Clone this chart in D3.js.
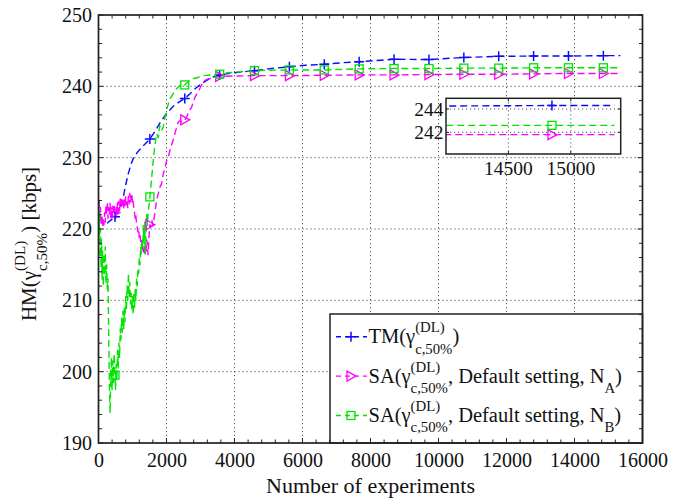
<!DOCTYPE html>
<html>
<head>
<meta charset="utf-8">
<script src="https://cdn.jsdelivr.net/npm/d3@7"></script>
<style>
  html, body { margin: 0; padding: 0; background: #fff; }
  svg { display: block; }
  text { font-family: "Liberation Serif", "Times New Roman", serif; fill: #111; white-space: pre; }
</style>
</head>
<body>
<svg id="chart" width="685" height="498"></svg>
<script>
// ---- data ----
const xTicks = [0, 2000, 4000, 6000, 8000, 10000, 12000, 14000, 16000];
const yTicks = [190, 200, 210, 220, 230, 240, 250];
const insetXTicks = [14500, 15000];
const insetYTicks = [242, 244];

// experiment counts that carry a marker symbol
const markerX = [485, 1511, 2537, 3563, 4589, 5615, 6641, 7667, 8693, 9719, 10745, 11771, 12797, 13823, 14849];

// TM
const tmX = [250, 485, 600, 730, 800, 878, 950, 1025, 1150, 1300, 1511, 1700, 1850, 2005, 2200, 2400, 2537, 2700, 2850, 3035, 3300, 3563, 4000, 4589, 5100, 5615, 6100, 6641, 7150, 7667, 8693, 9719, 10745, 11771, 12797, 13823, 14849, 15350];
const tmY = [220.8, 221.7, 222.8, 224.5, 226.2, 227.8, 229, 229.9, 230.8, 231.6, 232.6, 234, 235.2, 236.2, 237.2, 237.9, 238.3, 239, 239.7, 240.4, 241.2, 241.6, 241.9, 242.2, 242.5, 242.75, 242.95, 243.1, 243.3, 243.45, 243.8, 243.75, 244.05, 244.2, 244.25, 244.25, 244.3, 244.3];

// SA, default setting, N_A
const saAX = [0, 20, 40, 60, 80, 100, 120, 140, 160, 180, 200, 220, 240, 260, 280, 300, 320, 340, 360, 380, 400, 420, 440, 460, 485, 500, 520, 540, 560, 580, 600, 620, 640, 660, 680, 700, 720, 740, 760, 780, 800, 820, 840, 860, 880, 900, 920, 940, 960, 980, 1000, 1020, 1040, 1060, 1080, 1100, 1120, 1140, 1160, 1180, 1200, 1220, 1240, 1260, 1280, 1300, 1320, 1340, 1360, 1380, 1400, 1420, 1440, 1460, 1480, 1511, 1540, 1570, 1600, 1630, 1660, 1711, 1760, 1800, 1858, 1900, 1950, 2005, 2054, 2100, 2150, 2200, 2250, 2300, 2347, 2400, 2450, 2500, 2537, 2600, 2650, 2700, 2740, 2800, 2850, 2900, 2936, 3000, 3083, 3200, 3350, 3563, 4000, 4589, 5615, 6641, 7667, 8693, 9719, 10745, 11771, 12797, 13823, 14849, 15350];
const saAY = [222.5, 224, 221, 223, 220.5, 222, 220.3, 221.5, 220.6, 222.3, 221, 223.4, 222, 223.8, 221.5, 223, 222, 223.6, 221.8, 222.8, 221.3, 223.2, 222, 223.5, 222.3, 221.5, 223, 222.2, 223.7, 222.5, 223.9, 222.6, 224.2, 223, 224.4, 223.2, 224, 222.8, 224.3, 223.1, 224.5, 223.4, 224.1, 223, 224.6, 223.5, 225, 223.8, 224.4, 225, 223.6, 224, 222.8, 222.3, 221.4, 221.9, 220.6, 220.2, 219.6, 220, 218.8, 219.3, 218.3, 217.6, 218.4, 217.3, 216.8, 217.5, 216.5, 217.8, 216.9, 218.5, 217.4, 216.4, 218.6, 220.6, 220.3, 221.2, 220.5, 221.3, 222.4, 224.1, 225, 225.8, 226.4, 227.6, 228.5, 229.6, 230.1, 231, 231.8, 232.5, 233.4, 234.3, 235, 235.2, 235, 235.3, 235.3, 235.8, 236.3, 236.8, 237.1, 238, 238.6, 239, 239.2, 239.9, 240.7, 241, 241.2, 241.4, 241.45, 241.5, 241.5, 241.55, 241.6, 241.6, 241.65, 241.7, 241.7, 241.75, 241.8, 241.8, 241.8];

// SA, default setting, N_B
const saBX = [0, 15, 30, 45, 60, 75, 90, 105, 120, 140, 160, 180, 200, 220, 240, 260, 280, 300, 320, 340, 360, 380, 400, 420, 440, 460, 485, 500, 520, 540, 560, 580, 600, 620, 640, 660, 680, 700, 720, 740, 760, 780, 800, 820, 840, 860, 880, 900, 920, 940, 960, 980, 1000, 1020, 1040, 1060, 1080, 1100, 1120, 1140, 1160, 1180, 1200, 1220, 1240, 1260, 1280, 1300, 1320, 1340, 1360, 1380, 1400, 1420, 1440, 1460, 1480, 1511, 1560, 1612, 1650, 1711, 1760, 1800, 1850, 1906, 1950, 2005, 2050, 2100, 2150, 2200, 2280, 2350, 2420, 2494, 2537, 2600, 2700, 2800, 2900, 2985, 3100, 3300, 3563, 3800, 4100, 4589, 5000, 5615, 6641, 7667, 8693, 9719, 10745, 11771, 12797, 13823, 14849, 15350];
const saBY = [224, 219, 222.5, 216, 220, 214.5, 218.5, 213, 217, 212, 216.5, 213.5, 217.5, 212.5, 215, 211.5, 213, 205, 198, 194.2, 199.5, 202, 197.5, 201.5, 198.5, 202.5, 199.5, 197.5, 201, 198.8, 203, 200.5, 204, 202, 206, 204.5, 207.5, 205.5, 208.5, 206, 209, 207, 210.5, 208.5, 212, 210, 213.8, 210.5, 212.5, 209.5, 211, 208.5, 210.5, 208, 211, 209, 211.5, 210, 213, 212, 214.5, 213.8, 216, 215, 217.5, 216.5, 218.5, 217.5, 220.5, 218, 221, 216.5, 219.5, 222, 220.5, 222.5, 223, 224.5, 227, 229.7, 231.5, 233.4, 232.8, 234.5, 233.8, 234.3, 235.5, 236.7, 237.5, 238.2, 238.6, 239, 239.6, 239.9, 240.2, 240.4, 240.2, 240.5, 240.9, 241.1, 241.2, 241.4, 241.5, 241.6, 241.7, 241.9, 242, 242.2, 242.25, 242.3, 242.3, 242.45, 242.5, 242.5, 242.55, 242.55, 242.6, 242.6, 242.6, 242.6];

// ---- layout ----
const svg = d3.select("#chart");
const X0 = 98.5, X1 = 642.5, Y0 = 15, Y1 = 443;
const x = d3.scaleLinear().domain([0, 16000]).range([X0, X1]);
const y = d3.scaleLinear().domain([190, 250]).range([Y1, Y0]);

const series = [
  { xs: tmX,  ys: tmY,  color: "#0a0aff", marker: "plus" },
  { xs: saAX, ys: saAY, color: "#ff00ff", marker: "tri" },
  { xs: saBX, ys: saBY, color: "#00e400", marker: "square" }
];
series.forEach(s => { s.pts = d3.zip(s.xs, s.ys); });

const DASH = "7,4";
const LW = 1.4;

function drawMarker(g, kind, cx, cy, color) {
  if (kind === "plus") {
    g.append("path").attr("d", `M${cx - 5},${cy}H${cx + 5}M${cx},${cy - 5}V${cy + 5}`)
      .attr("stroke", color).attr("stroke-width", 1.5).attr("fill", "none");
  } else if (kind === "square") {
    g.append("rect").attr("x", cx - 4).attr("y", cy - 4).attr("width", 8).attr("height", 8)
      .attr("stroke", color).attr("stroke-width", 1.3).attr("fill", "none");
  } else {
    g.append("path").attr("d", `M${cx - 4},${cy - 5}L${cx + 5},${cy}L${cx - 4},${cy + 5}Z`)
      .attr("stroke", color).attr("stroke-width", 1.3).attr("fill", "none");
  }
}

// grid
const grid = svg.append("g").attr("stroke", "#555").attr("stroke-width", 1).attr("stroke-dasharray", "1.2,2.8");
xTicks.slice(1, -1).forEach(v => grid.append("line").attr("x1", x(v)).attr("x2", x(v)).attr("y1", Y0).attr("y2", Y1));
yTicks.slice(1, -1).forEach(v => grid.append("line").attr("x1", X0).attr("x2", X1).attr("y1", y(v)).attr("y2", y(v)));

// clip for plot area
svg.append("clipPath").attr("id", "plotClip").append("rect")
  .attr("x", X0).attr("y", Y0).attr("width", X1 - X0).attr("height", Y1 - Y0);

const line = d3.line().x(d => x(d[0])).y(d => y(d[1]));
const plotG = svg.append("g").attr("clip-path", "url(#plotClip)");
series.forEach(s => {
  plotG.append("path").attr("d", line(s.pts)).attr("fill", "none")
    .attr("stroke", s.color).attr("stroke-width", LW).attr("stroke-dasharray", DASH)
    .attr("stroke-linejoin", "round");
});
series.forEach(s => {
  s.pts.filter(d => markerX.includes(d[0])).forEach(d => drawMarker(plotG, s.marker, x(d[0]), y(d[1]), s.color));
});

// text with TeX-like super/subscripts, laid out left to right
function texText(g, parts, size, x0, yb) {
  let cx = x0;
  const small = size * 0.72;
  parts.forEach(p => {
    if (p.t !== undefined) {
      const el = g.append("text").attr("x", cx).attr("y", yb).style("font-size", size + "px").text(p.t);
      cx += el.node().getComputedTextLength();
    } else {
      let w = 0;
      if (p.sup) {
        const e = g.append("text").attr("x", cx).attr("y", yb - size * 0.53).style("font-size", small + "px").text(p.sup);
        w = Math.max(w, e.node().getComputedTextLength());
      }
      if (p.sub) {
        const e = g.append("text").attr("x", cx).attr("y", yb + size * 0.5).style("font-size", small + "px").text(p.sub);
        w = Math.max(w, e.node().getComputedTextLength());
      }
      cx += w;
    }
  });
  return cx - x0;
}

// legend
const legendLabels = [
  [{ t: "TM(γ" }, { sup: "(DL)", sub: "c,50%" }, { t: ")" }],
  [{ t: "SA(γ" }, { sup: "(DL)", sub: "c,50%" }, { t: ", Default setting, N" }, { sub: "A" }, { t: ")" }],
  [{ t: "SA(γ" }, { sup: "(DL)", sub: "c,50%" }, { t: ", Default setting, N" }, { sub: "B" }, { t: ")" }]
];
const LX0 = 330, LY0 = 314;
const leg = svg.append("g");
leg.append("rect").attr("x", LX0).attr("y", LY0).attr("width", X1 - LX0).attr("height", Y1 - LY0)
  .attr("fill", "#fff").attr("stroke", "#222").attr("stroke-width", 1.5);
series.forEach((s, i) => {
  const base = 343.3 + i * 39.4;
  const ly = base - 6.6;
  leg.append("line").attr("x1", 335).attr("x2", 367).attr("y1", ly).attr("y2", ly)
    .attr("stroke", s.color).attr("stroke-width", LW).attr("stroke-dasharray", "5,4").attr("stroke-dashoffset", -1);
  drawMarker(leg, s.marker, 351, ly, s.color);
  texText(leg, legendLabels[i], 20.5, 368.5, base);
});

// axes frame and ticks (inward, on all four sides)
const ax = svg.append("g").attr("stroke", "#222").attr("stroke-width", 1);
const xMinor = d3.range(0, 16001, 400).filter(v => !xTicks.includes(v));
const yMinor = d3.range(190, 250.01, 2).filter(v => !yTicks.includes(v));
const MJ = 5, MN = 3.5;
xTicks.forEach(v => {
  ax.append("line").attr("x1", x(v)).attr("x2", x(v)).attr("y1", Y1).attr("y2", Y1 - MJ);
  ax.append("line").attr("x1", x(v)).attr("x2", x(v)).attr("y1", Y0).attr("y2", Y0 + MJ);
});
xMinor.forEach(v => {
  ax.append("line").attr("x1", x(v)).attr("x2", x(v)).attr("y1", Y1).attr("y2", Y1 - MN);
  ax.append("line").attr("x1", x(v)).attr("x2", x(v)).attr("y1", Y0).attr("y2", Y0 + MN);
});
yTicks.forEach(v => {
  ax.append("line").attr("x1", X0).attr("x2", X0 + MJ).attr("y1", y(v)).attr("y2", y(v));
  ax.append("line").attr("x1", X1).attr("x2", X1 - MJ).attr("y1", y(v)).attr("y2", y(v));
});
yMinor.forEach(v => {
  ax.append("line").attr("x1", X0).attr("x2", X0 + MN).attr("y1", y(v)).attr("y2", y(v));
  ax.append("line").attr("x1", X1).attr("x2", X1 - MN).attr("y1", y(v)).attr("y2", y(v));
});
svg.append("rect").attr("x", X0).attr("y", Y0).attr("width", X1 - X0).attr("height", Y1 - Y0)
  .attr("fill", "none").attr("stroke", "#222").attr("stroke-width", 1.7);

// tick labels
const xAxis = d3.axisBottom(x).tickValues(xTicks).tickSize(0).tickPadding(0).tickFormat(d3.format("d"));
const xg = svg.append("g").attr("transform", `translate(0,${Y1})`).call(xAxis);
xg.select(".domain").remove();
xg.selectAll("text").attr("y", 24).attr("dy", null).style("font-size", "20px")
  .style("font-family", '"Liberation Serif", serif').attr("fill", "#111");

const yAxis = d3.axisLeft(y).tickValues(yTicks).tickSize(0).tickPadding(0).tickFormat(d3.format("d"));
const yg = svg.append("g").attr("transform", `translate(${X0},0)`).call(yAxis);
yg.select(".domain").remove();
yg.selectAll("text").attr("x", -6.5).attr("dy", "0.33em").style("font-size", "20px")
  .style("font-family", '"Liberation Serif", serif').attr("fill", "#111");

// axis titles
svg.append("text").attr("x", (X0 + X1) / 2).attr("y", 492.5).attr("text-anchor", "middle")
  .style("font-size", "22px").text("Number of experiments");

const ylab = svg.append("g").attr("transform", "translate(36,244) rotate(-90)");
const ylabInner = ylab.append("g");
const yw = texText(ylabInner, [{ t: "HM(γ" }, { sup: "(DL)", sub: "c,50%" }, { t: ") [kbps]" }], 21, 0, 0);
ylabInner.attr("transform", `translate(${-yw / 2},0)`);

// zoomed inset around the final experiments
const IX0 = 446, IX1 = 620.7, IY0 = 98.3, IY1 = 154;
const xi = d3.scaleLinear().domain([14000, 15400]).range([IX0, IX1]);
const yi = d3.scaleLinear().domain([240.14, 244.92]).range([IY1, IY0]);
const ins = svg.append("g");
ins.append("rect").attr("x", IX0).attr("y", IY0).attr("width", IX1 - IX0).attr("height", IY1 - IY0).attr("fill", "#fff");
const igrid = ins.append("g").attr("stroke", "#555").attr("stroke-width", 1).attr("stroke-dasharray", "1.2,2.8");
insetXTicks.forEach(v => igrid.append("line").attr("x1", xi(v)).attr("x2", xi(v)).attr("y1", IY0).attr("y2", IY1));
insetYTicks.forEach(v => igrid.append("line").attr("x1", IX0).attr("x2", IX1).attr("y1", yi(v)).attr("y2", yi(v)));
svg.append("clipPath").attr("id", "insetClip").append("rect")
  .attr("x", IX0).attr("y", IY0).attr("width", IX1 - IX0).attr("height", IY1 - IY0);
const iline = d3.line().x(d => xi(d[0])).y(d => yi(d[1]));
const insG = ins.append("g").attr("clip-path", "url(#insetClip)");
series.forEach(s => {
  insG.append("path").attr("d", iline(s.pts)).attr("fill", "none")
    .attr("stroke", s.color).attr("stroke-width", LW).attr("stroke-dasharray", DASH);
});
series.forEach(s => {
  s.pts.filter(d => markerX.includes(d[0]) && d[0] >= 14000 && d[0] <= 15400)
    .forEach(d => drawMarker(insG, s.marker, xi(d[0]), yi(d[1]), s.color));
});
const iax = ins.append("g").attr("stroke", "#222").attr("stroke-width", 1);
insetXTicks.forEach(v => {
  iax.append("line").attr("x1", xi(v)).attr("x2", xi(v)).attr("y1", IY1).attr("y2", IY1 - 3);
  iax.append("line").attr("x1", xi(v)).attr("x2", xi(v)).attr("y1", IY0).attr("y2", IY0 + 3);
});
insetYTicks.forEach(v => {
  iax.append("line").attr("x1", IX0).attr("x2", IX0 + 3).attr("y1", yi(v)).attr("y2", yi(v));
  iax.append("line").attr("x1", IX1).attr("x2", IX1 - 3).attr("y1", yi(v)).attr("y2", yi(v));
});
ins.append("rect").attr("x", IX0).attr("y", IY0).attr("width", IX1 - IX0).attr("height", IY1 - IY0)
  .attr("fill", "none").attr("stroke", "#222").attr("stroke-width", 1.5);
insetXTicks.forEach(v => ins.append("text").attr("x", xi(v)).attr("y", 175).attr("text-anchor", "middle")
  .style("font-size", "19.5px").text(d3.format("d")(v)));
insetYTicks.forEach(v => ins.append("text").attr("x", IX0 - 2.5).attr("y", yi(v)).attr("dy", "0.35em")
  .attr("text-anchor", "end").style("font-size", "19.5px").text(d3.format("d")(v)));
</script>
</body>
</html>
